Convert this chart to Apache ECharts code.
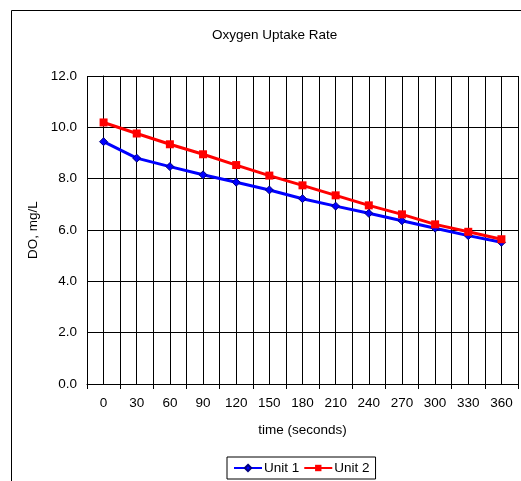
<!DOCTYPE html>
<html>
<head>
<meta charset="UTF-8">
<title>Oxygen Uptake Rate</title>
<script src="https://cdn.jsdelivr.net/npm/echarts@6/dist/echarts.min.js"></script>
<style>
  body { margin: 0; padding: 0; background: #fff; }
  #chart { width: 521px; height: 481px; }
</style>
</head>
<body>
<div id="chart"></div>
<script>
var times = ['0', '30', '60', '90', '120', '150', '180', '210', '240', '270', '300', '330', '360'];
var unit1 = [9.44, 8.80, 8.47, 8.15, 7.86, 7.56, 7.22, 6.93, 6.65, 6.36, 6.07, 5.78, 5.52];
var unit2 = [10.19, 9.76, 9.34, 8.95, 8.53, 8.12, 7.74, 7.35, 6.96, 6.61, 6.22, 5.93, 5.64];

var font = 'Liberation Sans, Arial, sans-serif';
var fs = 13.5;
var chart = echarts.init(document.getElementById('chart'));
chart.setOption({
  backgroundColor: '#fff',
  animation: false,
  textStyle: { fontFamily: font, color: '#000' },
  graphic: [{
    type: 'rect',
    shape: { x: 11.5, y: 10.5, width: 520, height: 480 },
    style: { fill: 'none', stroke: '#000', lineWidth: 1 },
    z: 10
  }],
  title: {
    text: 'Oxygen Uptake Rate',
    left: 207, top: 23,
    textStyle: { fontFamily: font, fontSize: fs, fontWeight: 'normal', color: '#000' }
  },
  legend: {
    bottom: 2, left: 227,
    data: ['Unit 1', 'Unit 2'],
    borderColor: '#000', borderWidth: 1, borderRadius: 0,
    padding: [4, 6], itemGap: 4, itemWidth: 28, itemHeight: 8,
    textStyle: { fontFamily: font, fontSize: fs, color: '#000', padding: [0, 0, 0, -3] }
  },
  grid: { left: 87, right: 3, top: 76, bottom: 97, containLabel: false },
  xAxis: [{
    type: 'category', data: times, boundaryGap: true,
    name: 'time (seconds)', nameLocation: 'middle', nameGap: 39,
    nameTextStyle: { fontFamily: font, fontSize: fs, color: '#000' },
    axisLine: { lineStyle: { color: '#000', width: 1 } },
    axisTick: { show: true, length: 5, lineStyle: { color: '#000' } },
    axisLabel: { fontFamily: font, fontSize: fs, color: '#000', margin: 12 },
    splitLine: { show: false }
  }, {
    type: 'value', min: -15, max: 375, interval: 15,
    position: 'bottom',
    axisLine: { show: false }, axisTick: { show: false }, axisLabel: { show: false },
    splitLine: { show: true, lineStyle: { color: '#000', width: 1 } }
  }],
  yAxis: {
    type: 'value', min: 0, max: 12, interval: 2,
    name: 'DO, mg/L', nameLocation: 'middle', nameGap: 47,
    nameTextStyle: { fontFamily: font, fontSize: fs, color: '#000' },
    axisLine: { show: true, lineStyle: { color: '#000', width: 1 } },
    axisTick: { show: true, length: 5, lineStyle: { color: '#000' } },
    axisLabel: { fontFamily: font, fontSize: fs, color: '#000', margin: 10,
      formatter: function (v) { return v.toFixed(1); } },
    splitLine: { show: true, lineStyle: { color: '#000', width: 1 } }
  },
  series: [{
    name: 'Unit 1', type: 'line', data: unit1, xAxisIndex: 0,
    symbol: 'diamond', symbolSize: 8,
    lineStyle: { color: '#0000ff', width: 3 },
    itemStyle: { color: '#0000ff', borderColor: '#000080', borderWidth: 1 },
    z: 3
  }, {
    name: 'Unit 2', type: 'line', data: unit2, xAxisIndex: 0,
    symbol: 'rect', symbolSize: 8,
    lineStyle: { color: '#ff0000', width: 3 },
    itemStyle: { color: '#ff0000' },
    z: 4
  }]
});
</script>
</body>
</html>
